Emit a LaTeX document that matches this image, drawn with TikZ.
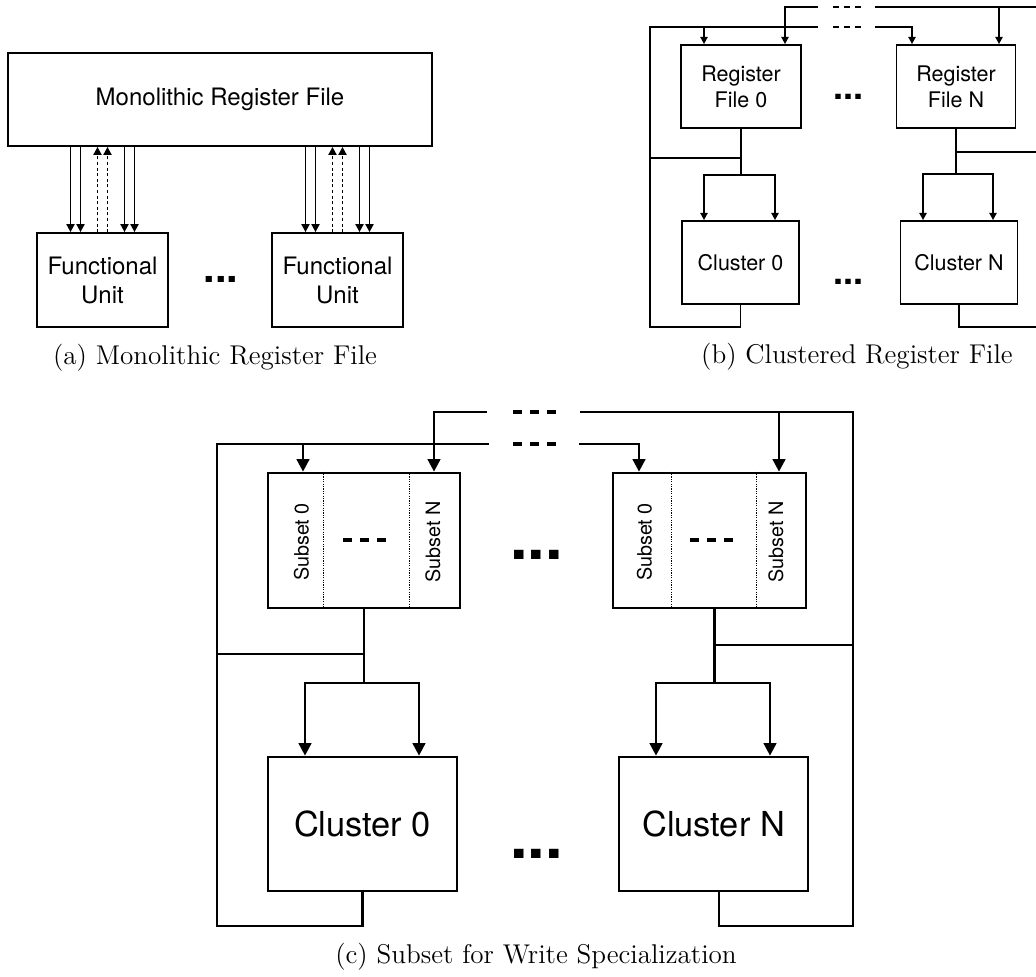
\documentclass[tikz,border=0pt]{standalone}
\usepackage{fontspec}
\newfontfamily\diagfont{TeX Gyre Heros}
\usetikzlibrary{arrows.meta}

\begin{document}
\begin{tikzpicture}[x=0.5pt, y=-0.5pt,
  boxA/.style={draw, line width=0.9pt, inner sep=0pt, align=center,
    font=\diagfont\fontsize{12}{14.5}\selectfont},
  boxB/.style={draw, line width=0.9pt, inner sep=0pt, align=center,
    font=\diagfont\fontsize{10.75}{13}\selectfont},
  boxC/.style={draw, line width=1.35pt, inner sep=0pt, align=center,
    font=\diagfont\fontsize{17.2}{20}\selectfont},
  subs/.style={rotate=90, inner sep=0pt, font=\diagfont\fontsize{9.9}{12}\selectfont},
  arrA/.style={line width=0.9pt, -{Triangle[length=4pt,width=4pt]}},
  wrA/.style={arrA, dash pattern=on 1.5pt off 1.3pt},
  lnB/.style={line width=0.9pt},
  arrB/.style={lnB, -{Triangle[length=3.6pt,width=3.6pt]}},
  lnC/.style={line width=1.35pt},
  arrC/.style={lnC, -{Triangle[length=6.3pt,width=6.3pt]}},
  divC/.style={line width=0.4pt, dash pattern=on 0.6pt off 0.6pt},
  gapB/.style={line width=1.35pt, dash pattern=on 3.2pt off 2.2pt},
  gapC/.style={line width=2pt, dash pattern=on 4.5pt off 4pt},
  dotsA/.style={inner sep=0pt, font=\diagfont\bfseries\fontsize{20.7}{20}\selectfont},
  dotsB/.style={inner sep=0pt, font=\diagfont\bfseries\fontsize{18}{18}\selectfont},
  dotsC/.style={inner sep=0pt, font=\diagfont\bfseries\fontsize{31.5}{30}\selectfont},
  capt/.style={inner sep=0pt, font=\fontsize{13.56}{16}\selectfont}]
  \useasboundingbox (0,0) rectangle (1036,976);

  % (a) monolithic register file
  \node[boxA, minimum width=212pt, minimum height=46.5pt] (mono) at (220,99.5) {Monolithic Register File};
  \node[boxA, minimum width=65.5pt, minimum height=47pt] (fu0) at (102.5,280) {Functional\\Unit};
  \node[boxA, minimum width=65.5pt, minimum height=47pt] (fuN) at (337.5,280) {Functional\\Unit};
  \node[dotsA] (dA) at (221,279) {...};
  \foreach \n in {fu0,fuN}{
    \foreach \dx in {-16,-11,11,16}
      \draw[arrA] ([xshift=\dx pt]\n.north |- mono.south) -- ([xshift=\dx pt]\n.north);
    \foreach \dx in {-2.5,2.5}
      \draw[wrA] ([xshift=\dx pt]\n.north) -- ([xshift=\dx pt]\n.north |- mono.south);
  }
  \node[capt] (capA) at (215,358) {(a) Monolithic Register File};

  % (b) clustered register file
  \node[boxB, minimum width=60pt, minimum height=41.5pt] (rf0) at (741,86.5) {Register\\File 0};
  \node[boxB, minimum width=59.5pt, minimum height=41.5pt] (rfN) at (956,86.5) {Register\\File N};
  \node[boxB, minimum width=58.5pt, minimum height=41.5pt] (cb0) at (740.5,262.5) {Cluster 0};
  \node[boxB, minimum width=58.5pt, minimum height=41.5pt] (cbN) at (959,262.5) {Cluster N};
  \node[dotsB] (dB1) at (848.5,97) {...};
  \node[dotsB] (dB2) at (848.5,282) {...};
  \coordinate (bTopL) at (818,7);
  \coordinate (bTopR) at (875,7);
  \coordinate (bTopE) at (1036,7);
  \coordinate (bMidL) at (818,27);
  \coordinate (bMidR) at (875,27);
  \coordinate (bRail0) at (650,327);
  \coordinate (bRailN) at (1036,327);
  \coordinate (bTap0) at (650,158);
  \coordinate (bTapN) at (1036,152);
  \coordinate (bSpl0) at (704,175);
  \coordinate (bSpr0) at (775,175);
  \coordinate (bSplN) at (923,174);
  \coordinate (bSprN) at (993,174);
  % write-back buses
  \draw[arrB] (bTopL) -| ([xshift=22pt]rf0.north);
  \draw[lnB] (bTopR) -- (bTopE);
  \draw[arrB] ([xshift=21.5pt]rfN.north |- bTopE) -- ([xshift=21.5pt]rfN.north);
  \draw[lnB] (cb0.south) |- (bRail0) |- (bMidL);
  \draw[arrB] ([xshift=-18.5pt]rf0.north |- bMidL) -- ([xshift=-18.5pt]rf0.north);
  \draw[arrB] (bMidR) -| ([xshift=-22pt]rfN.north);
  \draw[lnB] (cbN.south) |- (bRailN);
  \draw[gapB] (833,7) -- (861,7);
  \draw[gapB] (833,27) -- (861,27);
  % reads into the clusters
  \draw[lnB] (bTap0) -- (bTap0 -| rf0.south);
  \draw[arrB] (rf0.south) |- (bSpl0) -- (bSpl0 |- cb0.north);
  \draw[arrB] (bSpl0) -- (bSpr0) -- (bSpr0 |- cb0.north);
  \draw[lnB] (bTapN) -- (bTapN -| rfN.south);
  \draw[arrB] (rfN.south) |- (bSplN) -- (bSplN |- cbN.north);
  \draw[arrB] (bSplN) -- (bSprN) -- (bSprN |- cbN.north);
  \node[capt] (capB) at (857,357) {(b) Clustered Register File};

  % (c) subsets for write specialization
  \node[boxC, minimum width=96pt, minimum height=67.5pt] (sb0) at (364,540.5) {};
  \node[boxC, minimum width=96.5pt, minimum height=67.5pt] (sbN) at (709.5,540.5) {};
  \draw[divC] ([xshift=28.5pt]sb0.north west) -- ([xshift=28.5pt]sb0.south west);
  \draw[divC] ([xshift=-26pt]sb0.north east) -- ([xshift=-26pt]sb0.south east);
  \draw[divC] ([xshift=30pt]sbN.north west) -- ([xshift=30pt]sbN.south west);
  \draw[divC] ([xshift=-25.5pt]sbN.north east) -- ([xshift=-25.5pt]sbN.south east);
  \node[subs] (s00) at (301.5,542) {Subset 0};
  \node[subs] (s0N) at (433,542) {Subset N};
  \node[subs] (sN0) at (644.5,542) {Subset 0};
  \node[subs] (sNN) at (776,542) {Subset N};
  \draw[gapC] (343,540) -- (387,540);
  \draw[gapC] (690,540) -- (733,540);
  \node[boxC, minimum width=94.5pt, minimum height=67pt] (cc0) at (362.5,824) {Cluster 0};
  \node[boxC, minimum width=94.5pt, minimum height=67pt] (ccN) at (713.5,824) {Cluster N};
  \node[dotsC] (dC1) at (536.5,555) {...};
  \node[dotsC] (dC2) at (536.5,854) {...};
  \coordinate (cTopL) at (487,412);
  \coordinate (cTopR) at (580,412);
  \coordinate (cMidL) at (489,444);
  \coordinate (cMidR) at (579,444);
  \coordinate (cRail0) at (217,926);
  \coordinate (cRailN) at (853,926);
  \coordinate (cTap0) at (217,654);
  \coordinate (cTapN) at (853,645);
  \coordinate (cSpl0) at (305,683);
  \coordinate (cSpr0) at (419,683);
  \coordinate (cSplN) at (656,683);
  \coordinate (cSprN) at (770,683);
  \coordinate (sbNout) at ([xshift=2.5pt]sbN.south);
  \coordinate (ccNout) at ([xshift=2.75pt]ccN.south);
  % write-back buses
  \draw[arrC] (cTopL) -| ([xshift=35pt]sb0.north);
  \draw[lnC] (ccNout) |- (cRailN) |- (cTopR);
  \draw[arrC] ([xshift=34.75pt]sbN.north |- cTopR) -- ([xshift=34.75pt]sbN.north);
  \draw[lnC] (cc0.south) |- (cRail0) |- (cMidL);
  \draw[arrC] ([xshift=-30.5pt]sb0.north |- cMidL) -- ([xshift=-30.5pt]sb0.north);
  \draw[arrC] (cMidR) -| ([xshift=-35.25pt]sbN.north);
  \draw[gapC] (513,412) -- (557,412);
  \draw[gapC] (513,444) -- (557,444);
  % reads into the clusters
  \draw[lnC] (cTap0) -- (cTap0 -| sb0.south);
  \draw[arrC] (sb0.south) |- (cSpl0) -- (cSpl0 |- cc0.north);
  \draw[arrC] (cSpl0) -- (cSpr0) -- (cSpr0 |- cc0.north);
  \draw[lnC] (cTapN) -- (cTapN -| sbNout);
  \draw[arrC] (sbNout) |- (cSplN) -- (cSplN |- ccN.north);
  \draw[arrC] (cSplN) -- (cSprN) -- (cSprN |- ccN.north);
  \node[capt] (capC) at (536,957) {(c) Subset for Write Specialization};
\end{tikzpicture}
\end{document}
